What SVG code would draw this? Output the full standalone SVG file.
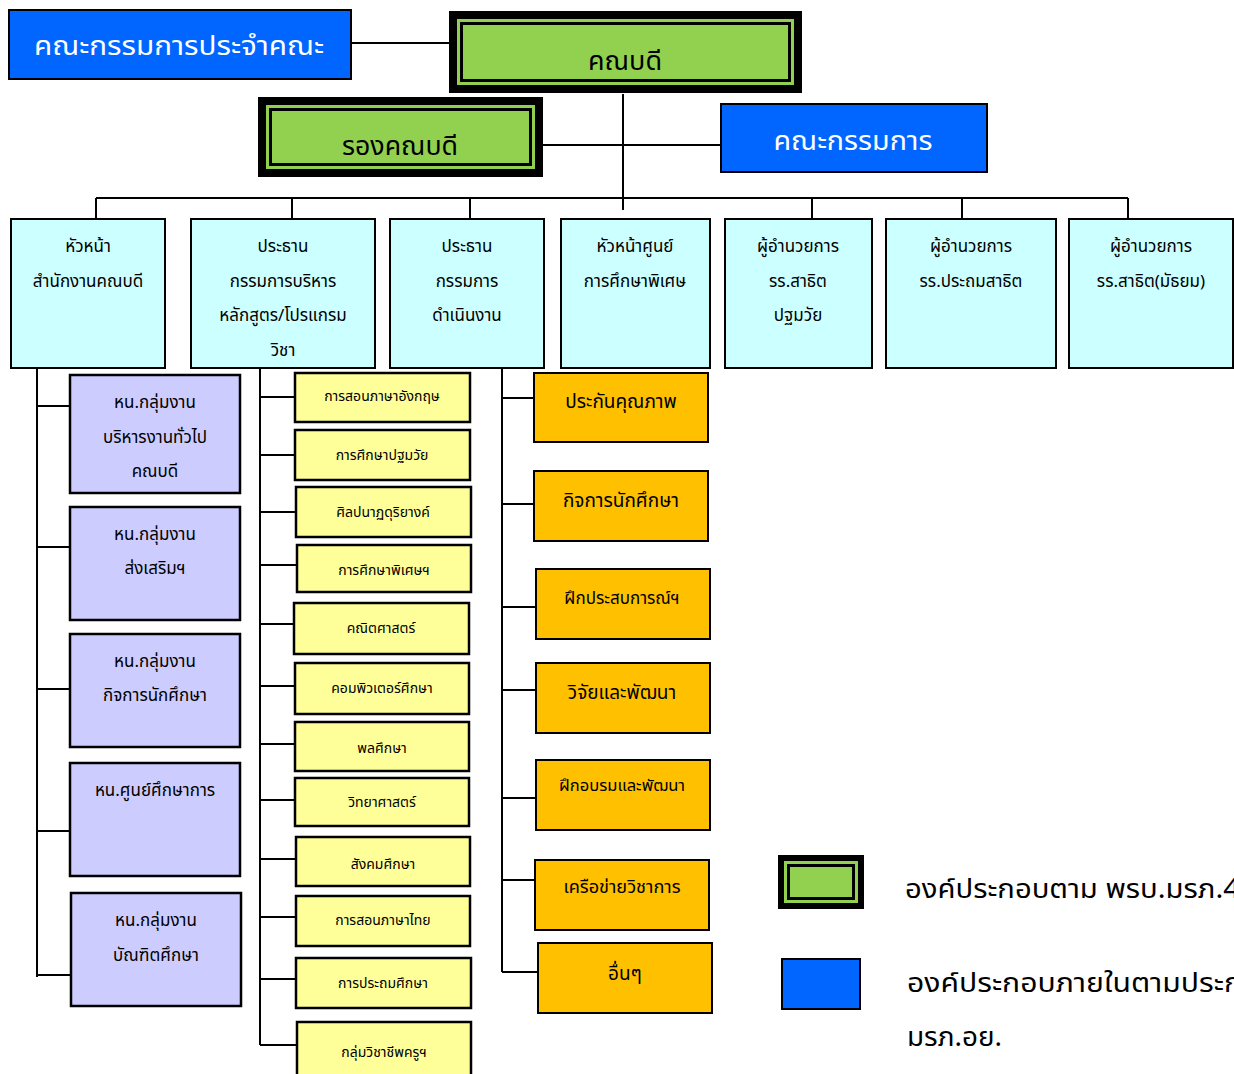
<svg xmlns="http://www.w3.org/2000/svg" width="1234" height="1074" viewBox="0 0 1234 1074">
<style>
text{font-family:"Noto Sans Thai","Noto Sans","DejaVu Sans",sans-serif;text-anchor:middle;fill:#000}
.ln{stroke:#000;stroke-width:2;fill:none}
.blue{fill:#0066ff;stroke:#000;stroke-width:2}
.cyan{fill:#ccffff;stroke:#000;stroke-width:2}
.purple{fill:#ccccff;stroke:#000;stroke-width:2.5}
.yellow{fill:#ffff99;stroke:#000;stroke-width:2.5}
.orange{fill:#ffc000;stroke:#000;stroke-width:2}
.big{font-size:27px}
.wt{fill:#fff}
.md{font-size:17px}
.om{font-size:19px}
.sm{font-size:14px}
.lg{font-size:27px}
</style>
<rect width="1234" height="1074" fill="#fff"/>
<g id="connectors">
<path class="ln" d="M351 43H449M543 145H720M623 94V210M96 198H1128M96 198V219M292 198V219M470 198V219M812 198V219M962 198V219M1128 198V219"/>
<path class="ln" d="M37 368V977M37 406H70M37 547H70M37 689H70M37 831H70M37 975H71"/>
<path class="ln" d="M260 368V1045M260 397H295M260 455H295M260 512H296M260 565H297M260 624H294M260 686H295M260 744H295M260 800H295M260 859H296M260 917H296M260 979H296M260 1045H297"/>
<path class="ln" d="M502 368V972M502 398H533M502 504H533M502 607H535M502 690H535M502 798H535M502 880H535M502 972H537"/>
</g>
<g id="n-committee-faculty"><rect class="blue" x="9" y="10" width="342" height="69"/><text class="big wt" x="179" y="55" textLength="290" lengthAdjust="spacingAndGlyphs">คณะกรรมการประจำคณะ</text></g>
<g id="n-dean"><rect x="449" y="11" width="353" height="82" fill="#000"/><rect x="457" y="19" width="337" height="66" fill="#92d050"/><rect x="461.5" y="23.5" width="328" height="57" fill="#92d050" stroke="#000" stroke-width="3"/><text class="big" x="625" y="70" textLength="74" lengthAdjust="spacingAndGlyphs">คณบดี</text></g>
<g id="n-vicedean"><rect x="258" y="97" width="285" height="80" fill="#000"/><rect x="266" y="105" width="269" height="64" fill="#92d050"/><rect x="270.5" y="109.5" width="260" height="55" fill="#92d050" stroke="#000" stroke-width="3"/><text class="big" x="400" y="155" textLength="116" lengthAdjust="spacingAndGlyphs">รองคณบดี</text></g>
<g id="n-committee"><rect class="blue" x="721" y="104" width="266" height="68"/><text class="big wt" x="853" y="150" textLength="159" lengthAdjust="spacingAndGlyphs">คณะกรรมการ</text></g>

<g id="n-c1"><rect class="cyan" x="11" y="219" width="154" height="149"/><text class="md" x="88" y="252">หัวหน้า</text><text class="md" x="88" y="287">สำนักงานคณบดี</text></g>
<g id="n-c2"><rect class="cyan" x="191" y="219" width="184" height="149"/><text class="md" x="283" y="252">ประธาน</text><text class="md" x="283" y="287">กรรมการบริหาร</text><text class="md" x="283" y="321">หลักสูตร/โปรแกรม</text><text class="md" x="283" y="356">วิชา</text></g>
<g id="n-c3"><rect class="cyan" x="390" y="219" width="154" height="149"/><text class="md" x="467" y="252">ประธาน</text><text class="md" x="467" y="287">กรรมการ</text><text class="md" x="467" y="321">ดำเนินงาน</text></g>
<g id="n-c4"><rect class="cyan" x="561" y="219" width="149" height="149"/><text class="md" x="635" y="252">หัวหน้าศูนย์</text><text class="md" x="635" y="287">การศึกษาพิเศษ</text></g>
<g id="n-c5"><rect class="cyan" x="725" y="219" width="147" height="149"/><text class="md" x="798" y="252">ผู้อำนวยการ</text><text class="md" x="798" y="287">รร.สาธิต</text><text class="md" x="798" y="321">ปฐมวัย</text></g>
<g id="n-c6"><rect class="cyan" x="886" y="219" width="170" height="149"/><text class="md" x="971" y="252">ผู้อำนวยการ</text><text class="md" x="971" y="287">รร.ประถมสาธิต</text></g>
<g id="n-c7"><rect class="cyan" x="1069" y="219" width="164" height="149"/><text class="md" x="1151" y="252">ผู้อำนวยการ</text><text class="md" x="1151" y="287">รร.สาธิต(มัธยม)</text></g>

<g id="n-p1"><rect class="purple" x="70" y="375" width="170" height="118"/><text class="md" x="155" y="408">หน.กลุ่มงาน</text><text class="md" x="155" y="443">บริหารงานทั่วไป</text><text class="md" x="155" y="477">คณบดี</text></g>
<g id="n-p2"><rect class="purple" x="70" y="507" width="170" height="113"/><text class="md" x="155" y="540">หน.กลุ่มงาน</text><text class="md" x="155" y="574">ส่งเสริมฯ</text></g>
<g id="n-p3"><rect class="purple" x="70" y="634" width="170" height="113"/><text class="md" x="155" y="667">หน.กลุ่มงาน</text><text class="md" x="155" y="701">กิจการนักศึกษา</text></g>
<g id="n-p4"><rect class="purple" x="70" y="763" width="170" height="113"/><text class="md" x="155" y="796">หน.ศูนย์ศึกษาการ</text></g>
<g id="n-p5"><rect class="purple" x="71" y="893" width="170" height="113"/><text class="md" x="156" y="926">หน.กลุ่มงาน</text><text class="md" x="156" y="961">บัณฑิตศึกษา</text></g>

<g id="n-y1"><rect class="yellow" x="295" y="373" width="175" height="49"/><text class="sm" x="382" y="401">การสอนภาษาอังกฤษ</text></g>
<g id="n-y2"><rect class="yellow" x="295" y="430" width="175" height="50"/><text class="sm" x="382" y="460">การศึกษาปฐมวัย</text></g>
<g id="n-y3"><rect class="yellow" x="296" y="487" width="175" height="50"/><text class="sm" x="383" y="517">ศิลปนาฏดุริยางค์</text></g>
<g id="n-y4"><rect class="yellow" x="297" y="545" width="174" height="47"/><text class="sm" x="384" y="575">การศึกษาพิเศษฯ</text></g>
<g id="n-y5"><rect class="yellow" x="294" y="603" width="175" height="51"/><text class="sm" x="381" y="633">คณิตศาสตร์</text></g>
<g id="n-y6"><rect class="yellow" x="295" y="663" width="174" height="51"/><text class="sm" x="382" y="693">คอมพิวเตอร์ศึกษา</text></g>
<g id="n-y7"><rect class="yellow" x="295" y="722" width="174" height="49"/><text class="sm" x="382" y="753">พลศึกษา</text></g>
<g id="n-y8"><rect class="yellow" x="295" y="778" width="174" height="48"/><text class="sm" x="382" y="807">วิทยาศาสตร์</text></g>
<g id="n-y9"><rect class="yellow" x="296" y="837" width="174" height="49"/><text class="sm" x="383" y="869">สังคมศึกษา</text></g>
<g id="n-y10"><rect class="yellow" x="296" y="896" width="174" height="50"/><text class="sm" x="383" y="925">การสอนภาษาไทย</text></g>
<g id="n-y11"><rect class="yellow" x="296" y="958" width="175" height="50"/><text class="sm" x="383" y="988">การประถมศึกษา</text></g>
<g id="n-y12"><rect class="yellow" x="297" y="1022" width="174" height="60"/><text class="sm" x="384" y="1057">กลุ่มวิชาชีพครูฯ</text></g>

<g id="n-o1"><rect class="orange" x="534" y="373" width="174" height="69"/><text class="om" x="621" y="408">ประกันคุณภาพ</text></g>
<g id="n-o2"><rect class="orange" x="534" y="471" width="174" height="70"/><text class="om" x="621" y="507">กิจการนักศึกษา</text></g>
<g id="n-o3"><rect class="orange" x="536" y="569" width="174" height="70"/><text class="md" x="622" y="604">ฝึกประสบการณ์ฯ</text></g>
<g id="n-o4"><rect class="orange" x="536" y="663" width="174" height="70"/><text class="om" x="622" y="699">วิจัยและพัฒนา</text></g>
<g id="n-o5"><rect class="orange" x="536" y="760" width="174" height="70"/><text x="622" y="791" style="font-size:16px" textLength="126" lengthAdjust="spacingAndGlyphs">ฝึกอบรมและพัฒนา</text></g>
<g id="n-o6"><rect class="orange" x="535" y="860" width="174" height="70"/><text x="622" y="893" style="font-size:17px" textLength="117" lengthAdjust="spacingAndGlyphs">เครือข่ายวิชาการ</text></g>
<g id="n-o7"><rect class="orange" x="538" y="943" width="174" height="70"/><text class="om" x="625" y="980">อื่นๆ</text></g>

<g id="legend">
<rect x="778" y="855" width="86" height="54" fill="#000"/><rect x="784" y="861" width="74" height="42" fill="#92d050"/><rect x="788.5" y="865.5" width="65" height="33" fill="#92d050" stroke="#000" stroke-width="3"/>
<text class="lg" x="905" y="898" style="text-anchor:start" textLength="335" lengthAdjust="spacingAndGlyphs">องค์ประกอบตาม พรบ.มรภ.4</text>
<rect class="blue" x="782" y="959" width="78" height="50"/>
<text class="lg" x="907" y="992" style="text-anchor:start" textLength="335" lengthAdjust="spacingAndGlyphs">องค์ประกอบภายในตามประก</text>
<text class="lg" x="907" y="1046" style="text-anchor:start" textLength="95" lengthAdjust="spacingAndGlyphs">มรภ.อย.</text>
</g>
</svg>
